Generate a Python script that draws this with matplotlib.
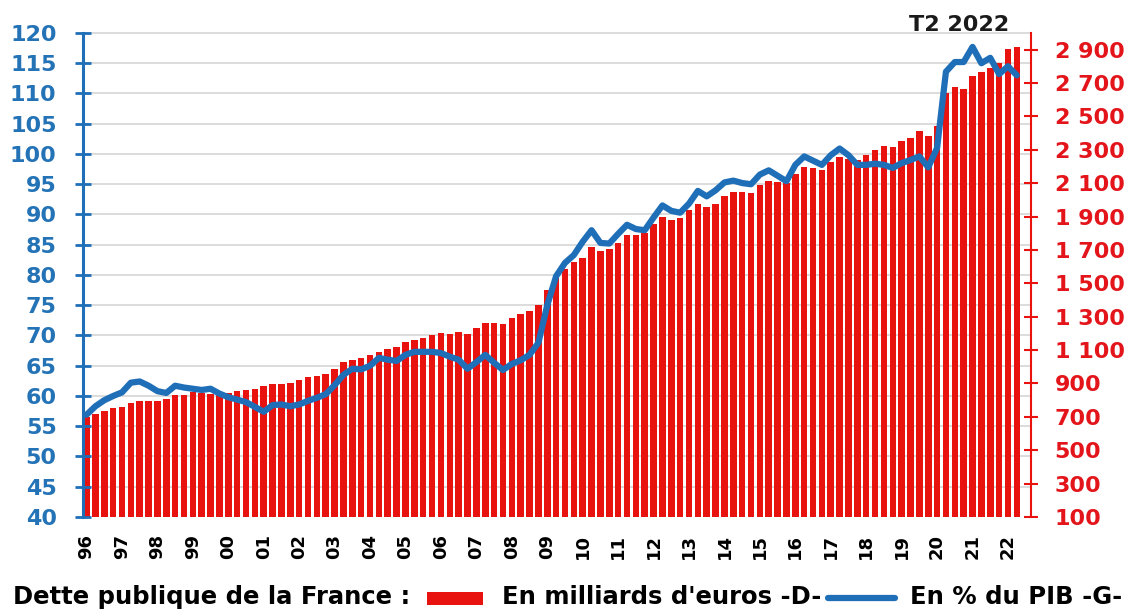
import matplotlib
matplotlib.use("Agg")
import matplotlib.pyplot as plt
from matplotlib.transforms import blended_transform_factory
from matplotlib.patches import Rectangle
from matplotlib.lines import Line2D

# Quarterly public debt of France, Q1 1996 .. Q2 2022
year_labels = ['96', '97', '98', '99', '00', '01', '02', '03', '04', '05', '06',
               '07', '08', '09', '10', '11', '12', '13', '14', '15', '16', '17',
               '18', '19', '20', '21', '22']

# Debt in billions of euros (right axis)
debt_bn = [
    700, 718, 738, 752,   762, 785, 795, 796,   798, 805, 828, 832,
    850, 843, 836, 828,   842, 856, 862, 868,   884, 894, 898, 902,
    918, 940, 942, 958,   988, 1028, 1042, 1050, 1068, 1088, 1106, 1120,
    1146, 1160, 1174, 1188, 1202, 1198, 1208, 1199, 1235, 1262, 1263, 1255,
    1295, 1318, 1333, 1369, 1460, 1536, 1588, 1628, 1654, 1715, 1696, 1708,
    1740, 1788, 1788, 1803, 1855, 1897, 1877, 1890, 1937, 1977, 1959, 1975,
    2022, 2047, 2047, 2041, 2092, 2112, 2107, 2099, 2157, 2200, 2194, 2182,
    2228, 2255, 2248, 2240, 2270, 2300, 2320, 2318, 2350, 2368, 2410, 2380,
    2440, 2640, 2678, 2662, 2745, 2768, 2790, 2820, 2905, 2917,
]

# Debt as a share of GDP, % (left axis)
debt_pct = [
    56.9, 58.3, 59.3, 60.0,   60.6, 62.2, 62.4, 61.7,   60.8, 60.5, 61.7, 61.4,
    61.2, 61.0, 61.2, 60.4,   59.8, 59.4, 59.0, 58.2,   57.4, 58.5, 58.6, 58.3,
    58.6, 59.2, 59.7, 60.3,   61.8, 63.5, 64.5, 64.4,   65.0, 66.3, 66.0, 65.8,
    66.8, 67.3, 67.3, 67.3,   67.1, 66.5, 66.0, 64.5,   65.6, 66.8, 65.5, 64.3,
    65.3, 65.9, 66.8, 68.8,   75.0, 79.8, 82.0, 83.3,   85.5, 87.4, 85.3, 85.2,
    86.8, 88.3, 87.6, 87.4,   89.5, 91.5, 90.6, 90.3,   91.8, 93.9, 93.0, 94.0,
    95.3, 95.6, 95.2, 95.0,   96.6, 97.3, 96.4, 95.5,   98.2, 99.6, 98.9, 98.2,
    99.8, 100.9, 99.8, 98.2,  98.2, 98.4, 98.2, 97.7,   98.5, 99.0, 99.6, 97.8,
    101.0, 113.6, 115.2, 115.2, 117.7, 115.0, 115.9, 113.2, 114.5, 113.0,
]

pct_ticks = list(range(40, 121, 5))
bn_ticks = list(range(100, 3000, 200))

RED = '#e8120e'
RED_TXT = '#e3151b'
BLUE = '#1f6fb8'
BLUE_TXT = '#2473b6'
FONT = 'DejaVu Sans'

W, H = 1131, 612
fig = plt.figure(figsize=(W / 100, H / 100), dpi=100)
ax_bar = fig.add_axes([83 / W, 1 - 517 / H, (1031 - 83) / W, (517 - 33) / H])
ax_pct = ax_bar.twinx()

x = list(range(len(debt_bn)))

# bars (billions) on the right-hand scale
ax_bar.bar(x, debt_bn, width=0.74, color=RED, edgecolor='none', zorder=2)
ax_bar.set_ylim(100, 3000)
ax_bar.set_xlim(-0.4, 106.6)
ax_bar.yaxis.tick_right()
ax_bar.set_yticks(bn_ticks)
ax_bar.set_yticklabels(['{:,}'.format(v).replace(',', ' ') for v in bn_ticks],
                       fontsize=16, fontweight='bold', color=RED_TXT,
                       family=FONT)
ax_bar.tick_params(axis='y', direction='inout', length=10, width=1.5,
                   color=RED, pad=12)

# horizontal grid aligned on the % scale, drawn behind the bars
grid_tr = blended_transform_factory(ax_bar.transAxes, ax_pct.transData)
for v in pct_ticks[1:]:
    ax_bar.plot([0, 1], [v, v], transform=grid_tr, color='#d6d6d6',
                lw=1.2, zorder=1, clip_on=False)

# line (% of GDP) on the left-hand scale
ax_pct.plot(x, debt_pct, color=BLUE, lw=4.5, solid_joinstyle='round',
            solid_capstyle='round', zorder=3)
ax_pct.set_ylim(40, 120)
ax_pct.yaxis.tick_left()
ax_pct.set_yticks(pct_ticks)
ax_pct.set_yticklabels([str(v) for v in pct_ticks], fontsize=16,
                       fontweight='bold', color=BLUE_TXT, family=FONT)
ax_pct.tick_params(axis='y', direction='inout', length=12, width=2,
                   color=BLUE, pad=13)

# x axis: one label per year, on the first quarter
ax_bar.set_xticks(list(range(0, len(debt_bn), 4)))
ax_bar.set_xticklabels(year_labels, rotation=90, fontsize=13,
                       fontweight='bold', family=FONT)
ax_bar.tick_params(axis='x', length=0, pad=12)

for a in (ax_bar, ax_pct):
    for sp in a.spines.values():
        sp.set_visible(False)
ax_pct.spines['left'].set_visible(True)
ax_pct.spines['left'].set_color(BLUE)
ax_pct.spines['left'].set_linewidth(2.2)
ax_bar.spines['right'].set_visible(True)
ax_bar.spines['right'].set_color(RED)
ax_bar.spines['right'].set_linewidth(1.5)

fig.text(959 / W, 1 - 25 / H, 'T2 2022', ha='center', va='center',
         fontsize=16, fontweight='bold', family=FONT, color='#1a1a1a')

# legend row, laid out by hand in figure pixels
base_y = 1 - 604 / H
leg_font = dict(fontsize=17.5, fontweight='bold', family=FONT, color='black',
                va='baseline', ha='left')
fig.text(13 / W, base_y, 'Dette publique de la France :', **leg_font)
fig.add_artist(Rectangle((427 / W, 1 - 605 / H), 56 / W, 13 / H,
                         transform=fig.transFigure, color=RED, lw=0))
fig.text(502 / W, base_y, "En milliards d'euros -D-", **leg_font)
fig.add_artist(Line2D([828 / W, 895 / W], [1 - 598 / H, 1 - 598 / H],
                      transform=fig.transFigure, color=BLUE, lw=4.5,
                      solid_capstyle='round'))
fig.text(910 / W, base_y, 'En % du PIB -G-', **leg_font)

fig.savefig('out.png', dpi=100)
